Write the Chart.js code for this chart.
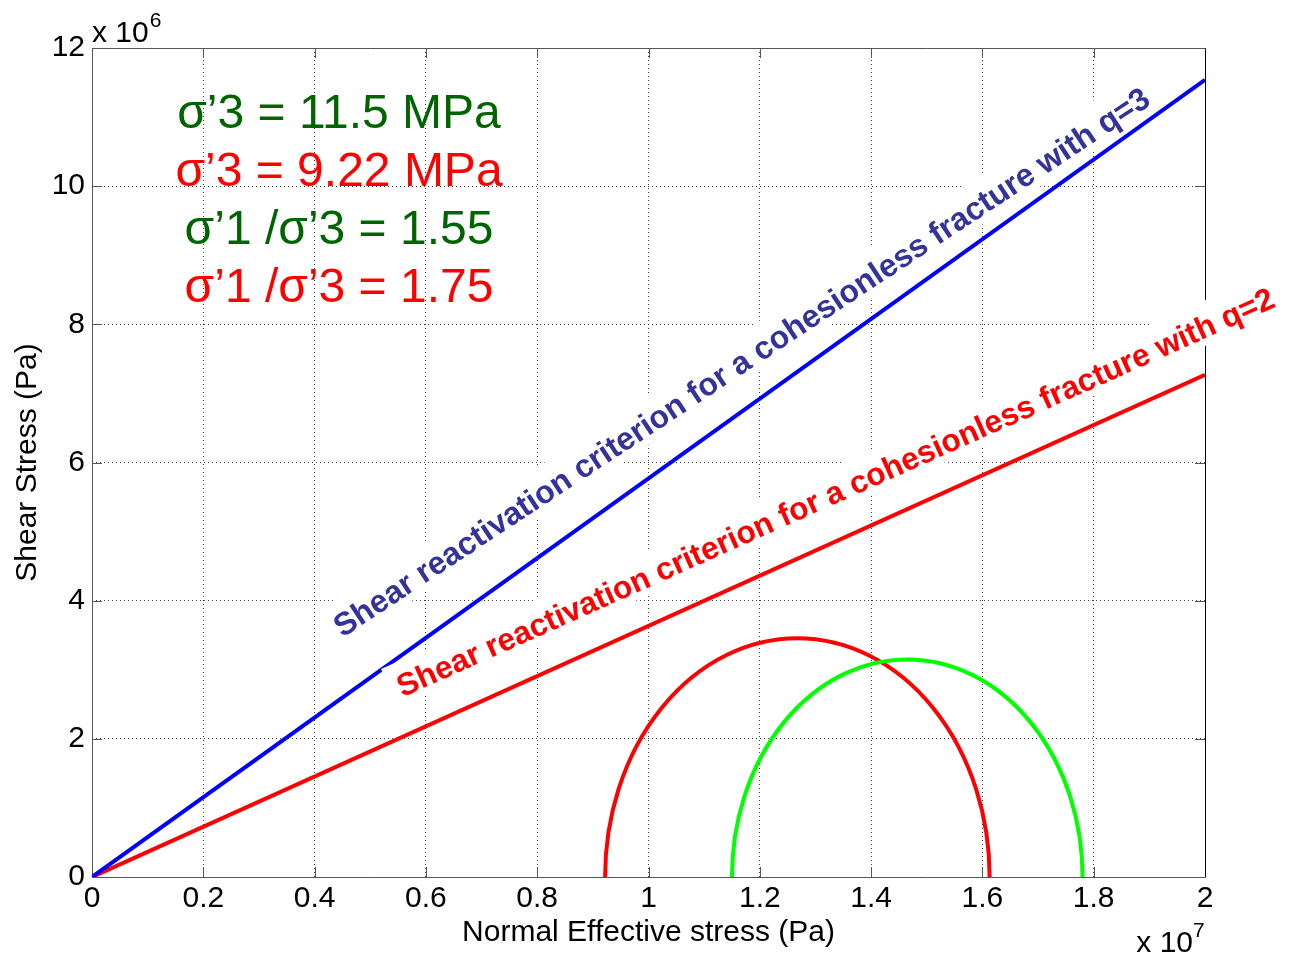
<!DOCTYPE html>
<html>
<head>
<meta charset="utf-8">
<script src="https://cdn.jsdelivr.net/npm/chart.js@4.4.0/dist/chart.umd.min.js"></script>
<style>
html, body { margin: 0; padding: 0; background: #fff; }
</style>
</head>
<body>
<canvas id="grafico" width="1290" height="958"></canvas>
<script>
// Shear reactivation criteria (straight lines through the origin), Pa
const lineX = [0, 2e7];
const blueLineY = [0, 11.54e6];
const redLineY = [0, 7.27e6];

// Mohr circles: sigma'3 and sigma'1 for each case, Pa
const circleSigma3 = [9.22e6, 11.5e6];
const circleSigma1 = [16.13e6, 17.8e6];
const circleColors = ['#ff0000', '#00ff00'];

// Ticks
const xTickLabels = ['0', '0.2', '0.4', '0.6', '0.8', '1', '1.2', '1.4', '1.6', '1.8', '2'];
const yTickLabels = ['0', '2', '4', '6', '8', '10', '12'];

// Text blocks
const infoLines = ['σ’3 = 11.5 MPa', 'σ’3 = 9.22 MPa', 'σ’1 /σ’3 = 1.55', 'σ’1 /σ’3 = 1.75'];
const infoColors = ['#006400', '#ff0000', '#006400', '#ff0000'];
const blueLabel = 'Shear reactivation criterion for a cohesionless fracture with q=3';
const redLabel = 'Shear reactivation criterion for a cohesionless fracture with q=2';

const fonte = "'Liberation Sans', Arial, Helvetica, sans-serif";
Chart.defaults.font.family = fonte;
Chart.defaults.color = '#000';

function pontos(xs, ys) {
    return xs.map((x, i) => ({ x: x, y: ys[i] }));
}

// frame + inward tick marks, matlab style
const moldura = {
    id: 'moldura',
    beforeDatasetsDraw(chart) {
        const ctx = chart.ctx;
        const { left, right, top, bottom } = chart.chartArea;
        const sx = chart.scales.x, sy = chart.scales.y;
        ctx.save();
        ctx.lineWidth = 1;
        ctx.strokeStyle = '#555';
        ctx.beginPath();
        sx.ticks.forEach(t => {
            const px = Math.round(sx.getPixelForValue(t.value)) + 0.5;
            ctx.moveTo(px, bottom); ctx.lineTo(px, bottom - 10);
            ctx.moveTo(px, top); ctx.lineTo(px, top + 10);
        });
        sy.ticks.forEach(t => {
            const py = Math.round(sy.getPixelForValue(t.value)) + 0.5;
            ctx.moveTo(left, py); ctx.lineTo(left + 10, py);
            ctx.moveTo(right, py); ctx.lineTo(right - 10, py);
        });
        ctx.stroke();
        ctx.beginPath();
        ctx.moveTo(left + 0.5, top + 0.5);
        ctx.lineTo(left + 0.5, bottom + 0.5);
        ctx.lineTo(right + 0.5, bottom + 0.5);
        ctx.moveTo(left + 0.5, top + 0.5);
        ctx.lineTo(right + 0.5, top + 0.5);
        ctx.stroke();
        ctx.strokeStyle = '#000';
        ctx.beginPath();
        ctx.moveTo(right + 0.5, top + 0.5);
        ctx.lineTo(right + 0.5, bottom + 0.5);
        ctx.stroke();
        ctx.restore();
    }
};

// Mohr semicircles and the rotated labels
const anotacoes = {
    id: 'anotacoes',
    afterDatasetsDraw(chart) {
        const ctx = chart.ctx;
        const sx = chart.scales.x, sy = chart.scales.y;
        const y0 = sy.getPixelForValue(0);

        ctx.save();
        ctx.lineWidth = 4;
        circleSigma3.forEach((s3, i) => {
            const c = (s3 + circleSigma1[i]) / 2;
            const r = (circleSigma1[i] - s3) / 2;
            const cx = sx.getPixelForValue(c);
            const rx = sx.getPixelForValue(c + r) - cx;
            const ry = y0 - sy.getPixelForValue(r);
            ctx.strokeStyle = circleColors[i];
            ctx.beginPath();
            ctx.ellipse(cx, y0, rx, ry, 0, Math.PI, 2 * Math.PI);
            ctx.stroke();
        });
        ctx.restore();

        rotulo(chart, blueLabel, 4.5e6, 3.46e6, 33.4, '#333399', 32);
        rotulo(chart, redLabel, 5.58e6, 2.6e6, 24.1, '#ff0000', 31.6);
    },
    afterDraw(chart) {
        const ctx = chart.ctx;
        const { left, right } = chart.chartArea;
        ctx.save();
        ctx.textAlign = 'center';
        ctx.textBaseline = 'alphabetic';
        ctx.font = '48px ' + fonte;
        const bases = [128, 186, 244, 302];
        infoLines.forEach((t, i) => {
            ctx.fillStyle = infoColors[i];
            ctx.fillText(t, 339, bases[i]);
        });

        // axis multipliers
        ctx.fillStyle = '#000';
        ctx.textAlign = 'left';
        ctx.font = '30px ' + fonte;
        const w10 = ctx.measureText('x 10').width;
        ctx.fillText('x 10', left, 42);
        ctx.fillText('x 10', right - w10 - 12, 952);
        ctx.font = '21px ' + fonte;
        ctx.fillText('6', left + w10 + 1, 27);
        ctx.fillText('7', right - 12, 937);
        ctx.restore();
    }
};

function rotulo(chart, texto, xv, yv, graus, cor, tam) {
    const ctx = chart.ctx;
    const px = chart.scales.x.getPixelForValue(xv);
    const py = chart.scales.y.getPixelForValue(yv);
    ctx.save();
    ctx.translate(px, py);
    ctx.rotate(-graus * Math.PI / 180);
    ctx.font = 'bold ' + tam + 'px ' + fonte;
    const w = ctx.measureText(texto).width;
    ctx.fillStyle = '#fff';
    ctx.fillRect(-8, -tam * 1.1, w + 12, tam * 1.32);
    ctx.fillStyle = cor;
    ctx.textAlign = 'left';
    ctx.textBaseline = 'alphabetic';
    ctx.fillText(texto, 0, 0);
    ctx.restore();
}

const ctx = document.getElementById('grafico');

new Chart(ctx, {
    type: 'scatter',
    data: {
        datasets: [
            {
                label: 'q=3',
                data: pontos(lineX, blueLineY),
                showLine: true,
                borderColor: '#0000ff',
                borderWidth: 4,
                pointRadius: 0,
            },
            {
                label: 'q=2',
                data: pontos(lineX, redLineY),
                showLine: true,
                borderColor: '#ff0000',
                borderWidth: 4,
                pointRadius: 0,
            },
        ],
    },
    options: {
        responsive: false,
        animation: false,
        devicePixelRatio: 1,
        layout: { padding: { top: 48, right: 85, left: 0, bottom: 0 } },
        plugins: {
            legend: { display: false },
            tooltip: { enabled: false },
        },
        scales: {
            x: {
                type: 'linear',
                min: 0,
                max: 2e7,
                afterFit: s => { s.height = 81; },
                ticks: {
                    stepSize: 2e6,
                    padding: 4,
                    maxRotation: 0,
                    font: { size: 30 },
                    callback: (v, i) => xTickLabels[i],
                },
                grid: { color: 'rgba(0,0,0,0.75)', lineWidth: 1, drawTicks: false, borderDash: [1, 3] },
                border: { display: false, dash: [1, 3] },
                title: {
                    display: true,
                    text: 'Normal Effective stress (Pa)',
                    font: { size: 30 },
                    padding: { top: 0, bottom: 7 },
                },
            },
            y: {
                type: 'linear',
                min: 0,
                max: 12e6,
                afterFit: s => { s.width = 92; },
                ticks: {
                    stepSize: 2e6,
                    padding: 7,
                    font: { size: 30 },
                    callback: (v, i) => yTickLabels[i],
                },
                grid: { color: 'rgba(0,0,0,0.75)', lineWidth: 1, drawTicks: false, borderDash: [1, 3] },
                border: { display: false, dash: [1, 3] },
                title: {
                    display: true,
                    text: 'Shear Stress (Pa)',
                    font: { size: 30 },
                    padding: { top: 10, bottom: 0 },
                },
            },
        },
    },
    plugins: [moldura, anotacoes],
});
</script>
</body>
</html>
